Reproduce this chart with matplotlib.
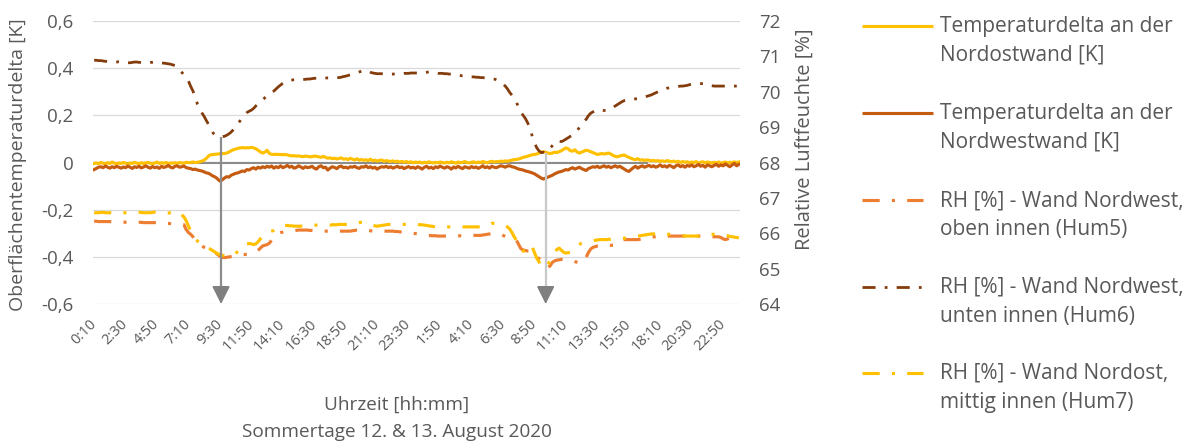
import numpy as np
import matplotlib
matplotlib.use("Agg")
import matplotlib.pyplot as plt
from matplotlib.lines import Line2D

plt.rcParams['font.family'] = ['Open Sans', 'DejaVu Sans']

TEXT = '#595959'
GRID = '#D9D9D9'

# 10-minute readings, 12. Aug 0:10 to 13. Aug 24:00 (288 values per series)
tick_labels = ["0:10", "2:30", "4:50", "7:10", "9:30", "11:50", "14:10", "16:30",
               "18:50", "21:10", "23:30", "1:50", "4:10", "6:30", "8:50", "11:10",
               "13:30", "15:50", "18:10", "20:30", "22:50"]
tick_step = 14  # one label every 140 minutes

# Surface temperature deltas in mK
delta_nordost_mK = [
    -4, -2, -5, 0, -3, -6, -1, -4, 2, -3, -5, -2,
    -4, 0, -3, -6, -2, -4, 1, -3, -5, -1, -4, -2,
    0, -3, -5, -2, 2, -4, -1, -3, 0, -5, -2, -3,
    -1, -4, 0, -2, -3, 1, -1, 0, 2, 0, 1, 3,
    6, 10, 18, 28, 33, 34, 35, 36, 37, 38, 38, 40,
    44, 50, 54, 57, 60, 62, 63, 62, 63, 62, 64, 62,
    58, 52, 45, 40, 44, 52, 38, 35, 34, 35, 34, 34,
    33, 34, 32, 30, 28, 29, 27, 28, 26, 25, 27, 26,
    24, 25, 27, 26, 24, 22, 26, 22, 18, 20, 16, 18,
    15, 17, 20, 14, 16, 12, 18, 14, 11, 16, 10, 13,
    9, 12, 8, 14, 7, 10, 6, 9, 11, 5, 8, 6,
    4, 7, 3, 6, 2, 5, 1, 4, 0, 3, -1, 2,
    0, 2, -2, 1, -1, 3, 0, -2, 1, -1, 2, 0,
    -2, 1, -1, 3, 0, -3, 2, -1, 1, 4, 0, -2,
    1, 3, -1, 2, 0, 4, 1, -1, 3, 5, 2, 4,
    3, 6, 4, 7, 5, 8, 10, 12, 13, 15, 18, 22,
    24, 27, 30, 33, 34, 36, 40, 44, 46, 43, 40, 38,
    40, 44, 42, 46, 50, 56, 62, 58, 50, 48, 54, 44,
    40, 44, 48, 52, 50, 46, 42, 38, 34, 36, 38, 36,
    38, 40, 36, 30, 26, 24, 28, 30, 32, 26, 22, 18,
    14, 12, 16, 10, 12, 8, 11, 10, 7, 9, 6, 8,
    5, 7, 4, 8, 6, 3, 6, 2, 5, 0, 4, 1,
    3, -1, 2, 0, 4, -2, 1, 3, -1, 2, 0, -2,
    1, -1, 2, -3, 0, 2, -2, 1, -1, 3, 0, 2,
]

delta_nordwest_mK = [
    -30, -25, -20, -18, -22, -15, -20, -24, -18, -22, -16, -20,
    -24, -19, -22, -15, -20, -25, -18, -21, -16, -23, -19, -14,
    -20, -24, -17, -22, -19, -25, -16, -21, -18, -12, -20, -23,
    -16, -14, -20, -18, -15, -22, -24, -26, -30, -28, -32, -34,
    -36, -40, -44, -46, -52, -58, -62, -70, -79, -74, -66, -60,
    -62, -54, -50, -46, -44, -40, -36, -38, -30, -32, -26, -22,
    -28, -20, -24, -18, -22, -16, -20, -15, -24, -18, -22, -14,
    -22, -18, -12, -20, -16, -24, -21, -14, -19, -25, -18, -22,
    -20, -16, -24, -28, -18, -14, -22, -20, -32, -24, -18, -21,
    -26, -18, -15, -22, -20, -24, -18, -20, -16, -22, -25, -18,
    -20, -14, -22, -18, -24, -20, -28, -22, -18, -20, -16, -22,
    -18, -24, -20, -16, -22, -19, -26, -21, -17, -23, -20, -25,
    -18, -22, -28, -20, -16, -24, -20, -26, -18, -22, -15, -20,
    -24, -18, -21, -28, -19, -23, -16, -22, -26, -18, -21, -24,
    -17, -22, -19, -25, -20, -14, -22, -18, -24, -16, -20, -22,
    -18, -14, -16, -20, -15, -14, -18, -20, -24, -28, -30, -32,
    -36, -38, -41, -44, -48, -54, -60, -66, -70, -66, -62, -58,
    -54, -48, -44, -40, -38, -34, -30, -32, -26, -22, -28, -24,
    -20, -26, -30, -34, -26, -22, -18, -20, -16, -22, -18, -14,
    -20, -16, -22, -18, -14, -20, -16, -22, -28, -34, -38, -30,
    -22, -16, -24, -18, -14, -20, -16, -12, -18, -14, -20, -16,
    -10, -18, -14, -20, -12, -16, -22, -14, -10, -18, -13, -20,
    -12, -16, -10, -18, -14, -8, -16, -12, -20, -10, -14, -18,
    -12, -8, -16, -10, -14, -6, -12, -18, -10, -4, -14, -8,
]

# Relative humidity in %
rh_hum5 = [
    66.34, 66.34, 66.33, 66.33, 66.33, 66.33, 66.33, 66.33, 66.32, 66.32, 66.32, 66.32,
    66.32, 66.32, 66.31, 66.31, 66.31, 66.31, 66.31, 66.31, 66.31, 66.31, 66.30, 66.30,
    66.30, 66.30, 66.30, 66.30, 66.30, 66.30, 66.29, 66.29, 66.28, 66.28, 66.27, 66.26,
    66.26, 66.25, 66.25, 66.25, 66.24, 66.10, 66.02, 65.97, 65.90, 65.82, 65.74, 65.68,
    65.64, 65.60, 65.56, 65.53, 65.50, 65.47, 65.44, 65.40, 65.35, 65.32, 65.31, 65.32,
    65.33, 65.34, 65.35, 65.36, 65.38, 65.39, 65.40, 65.40, 65.40, 65.40, 65.42, 65.44,
    65.47, 65.52, 65.58, 65.64, 65.66, 65.68, 65.72, 65.80, 65.90, 65.97, 66.00, 66.02,
    66.03, 66.04, 66.04, 66.05, 66.06, 66.07, 66.08, 66.09, 66.09, 66.09, 66.09, 66.09,
    66.08, 66.08, 66.07, 66.07, 66.07, 66.06, 66.06, 66.06, 66.06, 66.06, 66.06, 66.06,
    66.06, 66.06, 66.06, 66.06, 66.06, 66.06, 66.06, 66.07, 66.08, 66.09, 66.09, 66.09,
    66.09, 66.09, 66.08, 66.07, 66.06, 66.06, 66.06, 66.06, 66.06, 66.06, 66.06, 66.06,
    66.06, 66.06, 66.05, 66.05, 66.04, 66.04, 66.03, 66.03, 66.02, 66.01, 66.00, 65.99,
    65.98, 65.97, 65.96, 65.95, 65.94, 65.94, 65.93, 65.93, 65.93, 65.92, 65.92, 65.92,
    65.92, 65.92, 65.92, 65.92, 65.92, 65.92, 65.92, 65.93, 65.93, 65.93, 65.93, 65.94,
    65.94, 65.94, 65.94, 65.94, 65.94, 65.95, 65.96, 65.97, 65.98, 65.99, 65.99, 65.99,
    65.99, 65.97, 65.94, 65.91, 65.89, 65.87, 65.85, 65.83, 65.80, 65.68, 65.56, 65.53,
    65.51, 65.50, 65.50, 65.49, 65.45, 65.36, 65.28, 65.21, 65.12, 65.06, 65.03, 65.08,
    65.18, 65.22, 65.24, 65.25, 65.26, 65.26, 65.26, 65.26, 65.25, 65.23, 65.20, 65.18,
    65.16, 65.15, 65.20, 65.32, 65.45, 65.55, 65.60, 65.62, 65.64, 65.65, 65.66, 65.68,
    65.68, 65.67, 65.66, 65.66, 65.70, 65.76, 65.80, 65.81, 65.82, 65.82, 65.82, 65.82,
    65.82, 65.82, 65.82, 65.83, 65.84, 65.85, 65.86, 65.88, 65.89, 65.90, 65.90, 65.91,
    65.91, 65.92, 65.92, 65.92, 65.92, 65.92, 65.92, 65.92, 65.92, 65.92, 65.92, 65.92,
    65.92, 65.92, 65.92, 65.92, 65.92, 65.92, 65.92, 65.92, 65.91, 65.91, 65.91, 65.90,
    65.90, 65.90, 65.90, 65.88, 65.84, 65.82, 65.84, 65.86, 65.87, 65.88, 65.88, 65.88,
]

rh_hum6 = [
    70.89, 70.89, 70.88, 70.88, 70.87, 70.86, 70.86, 70.85, 70.85, 70.84, 70.84, 70.85,
    70.85, 70.84, 70.83, 70.82, 70.82, 70.83, 70.84, 70.84, 70.83, 70.83, 70.82, 70.82,
    70.82, 70.83, 70.83, 70.83, 70.82, 70.82, 70.81, 70.81, 70.80, 70.79, 70.78, 70.76,
    70.74, 70.70, 70.62, 70.55, 70.48, 70.42, 70.30, 70.15, 70.02, 69.85, 69.65, 69.52,
    69.40, 69.30, 69.18, 69.07, 68.95, 68.83, 68.77, 68.74, 68.73, 68.73, 68.74, 68.77,
    68.81, 68.86, 68.93, 69.02, 69.10, 69.18, 69.26, 69.34, 69.41, 69.45, 69.48, 69.53,
    69.60, 69.66, 69.71, 69.77, 69.83, 69.88, 69.93, 69.98, 70.02, 70.08, 70.14, 70.19,
    70.24, 70.28, 70.30, 70.32, 70.33, 70.34, 70.34, 70.35, 70.35, 70.35, 70.35, 70.36,
    70.36, 70.37, 70.38, 70.38, 70.38, 70.39, 70.39, 70.39, 70.39, 70.39, 70.39, 70.39,
    70.40, 70.40, 70.41, 70.43, 70.44, 70.46, 70.48, 70.50, 70.52, 70.54, 70.56, 70.58,
    70.60, 70.61, 70.58, 70.55, 70.53, 70.52, 70.51, 70.51, 70.51, 70.50, 70.50, 70.50,
    70.50, 70.50, 70.50, 70.51, 70.51, 70.51, 70.52, 70.52, 70.52, 70.53, 70.53, 70.53,
    70.53, 70.53, 70.53, 70.54, 70.55, 70.56, 70.55, 70.54, 70.53, 70.52, 70.52, 70.52,
    70.51, 70.51, 70.50, 70.50, 70.49, 70.48, 70.47, 70.46, 70.45, 70.45, 70.44, 70.43,
    70.42, 70.42, 70.41, 70.41, 70.40, 70.40, 70.39, 70.39, 70.38, 70.37, 70.36, 70.34,
    70.31, 70.27, 70.22, 70.16, 70.08, 69.98, 69.90, 69.82, 69.70, 69.55, 69.42, 69.33,
    69.24, 69.12, 68.96, 68.75, 68.56, 68.42, 68.33, 68.28, 68.29, 68.27, 68.34, 68.40,
    68.48, 68.56, 68.62, 68.60, 68.59, 68.62, 68.66, 68.70, 68.74, 68.77, 68.82, 68.90,
    68.99, 69.08, 69.15, 69.22, 69.32, 69.39, 69.43, 69.46, 69.49, 69.50, 69.49, 69.47,
    69.47, 69.49, 69.52, 69.56, 69.60, 69.64, 69.68, 69.72, 69.75, 69.76, 69.77, 69.78,
    69.79, 69.80, 69.80, 69.81, 69.83, 69.85, 69.87, 69.89, 69.91, 69.94, 69.97, 70.00,
    70.03, 70.06, 70.08, 70.10, 70.11, 70.12, 70.13, 70.14, 70.15, 70.16, 70.16, 70.17,
    70.18, 70.20, 70.21, 70.22, 70.23, 70.23, 70.23, 70.23, 70.22, 70.20, 70.18, 70.17,
    70.16, 70.16, 70.16, 70.16, 70.16, 70.16, 70.16, 70.16, 70.16, 70.16, 70.16, 70.16,
]

rh_hum7 = [
    66.58, 66.58, 66.58, 66.59, 66.59, 66.58, 66.58, 66.58, 66.57, 66.57, 66.58, 66.59,
    66.59, 66.58, 66.58, 66.58, 66.57, 66.57, 66.58, 66.59, 66.59, 66.59, 66.58, 66.58,
    66.58, 66.58, 66.59, 66.60, 66.60, 66.59, 66.58, 66.58, 66.57, 66.57, 66.58, 66.58,
    66.60, 66.62, 66.58, 66.52, 66.46, 66.35, 66.20, 66.06, 65.95, 65.85, 65.78, 65.73,
    65.70, 65.67, 65.62, 65.58, 65.54, 65.50, 65.46, 65.42, 65.40, 65.38, 65.37, 65.37,
    65.37, 65.36, 65.37, 65.42, 65.50, 65.58, 65.65, 65.68, 65.70, 65.71, 65.70, 65.68,
    65.70, 65.76, 65.84, 65.92, 65.96, 66.00, 66.04, 66.06, 66.08, 66.12, 66.16, 66.20,
    66.21, 66.22, 66.22, 66.21, 66.21, 66.20, 66.20, 66.20, 66.20, 66.21, 66.21, 66.22,
    66.22, 66.23, 66.23, 66.23, 66.23, 66.23, 66.23, 66.23, 66.23, 66.23, 66.24, 66.24,
    66.24, 66.25, 66.25, 66.25, 66.25, 66.25, 66.25, 66.26, 66.27, 66.28, 66.30, 66.31,
    66.31, 66.30, 66.27, 66.24, 66.22, 66.21, 66.20, 66.21, 66.22, 66.23, 66.24, 66.25,
    66.25, 66.25, 66.25, 66.25, 66.25, 66.25, 66.25, 66.25, 66.25, 66.25, 66.25, 66.25,
    66.25, 66.24, 66.24, 66.23, 66.22, 66.21, 66.20, 66.19, 66.18, 66.18, 66.18, 66.18,
    66.18, 66.18, 66.18, 66.18, 66.18, 66.18, 66.18, 66.18, 66.18, 66.18, 66.18, 66.18,
    66.18, 66.18, 66.18, 66.18, 66.18, 66.19, 66.20, 66.22, 66.25, 66.28, 66.28, 66.27,
    66.25, 66.22, 66.21, 66.20, 66.18, 66.12, 66.02, 65.90, 65.80, 65.68, 65.58, 65.49,
    65.52, 65.60, 65.68, 65.62, 65.45, 65.30, 65.20, 65.05, 65.02, 65.05, 65.12, 65.22,
    65.34, 65.46, 65.54, 65.58, 65.52, 65.46, 65.44, 65.45, 65.46, 65.50, 65.56, 65.62,
    65.68, 65.72, 65.74, 65.75, 65.77, 65.78, 65.79, 65.80, 65.81, 65.82, 65.82, 65.82,
    65.82, 65.83, 65.83, 65.84, 65.84, 65.84, 65.85, 65.85, 65.86, 65.86, 65.87, 65.88,
    65.89, 65.90, 65.92, 65.93, 65.94, 65.95, 65.96, 65.97, 65.98, 65.98, 65.99, 65.99,
    65.99, 65.99, 65.98, 65.97, 65.97, 65.97, 65.96, 65.95, 65.94, 65.93, 65.93, 65.92,
    65.92, 65.92, 65.92, 65.92, 65.92, 65.92, 65.93, 65.94, 65.95, 65.96, 65.97, 65.97,
    65.97, 65.97, 65.97, 65.97, 65.96, 65.95, 65.93, 65.91, 65.90, 65.89, 65.88, 65.87,
]

labels = ["Temperaturdelta an der\nNordostwand [K]",
          "Temperaturdelta an der\nNordwestwand [K]",
          "RH [%] - Wand Nordwest,\noben innen (Hum5)",
          "RH [%] - Wand Nordwest,\nunten innen (Hum6)",
          "RH [%] - Wand Nordost,\nmittig innen (Hum7)"]

# ---- line styles ----
styles = [
    dict(color='#FFC000', lw=2.25, ls='-'),
    dict(color='#C55A11', lw=2.25, ls='-'),
    dict(color='#ED7D31', lw=2.25, ls=(0, (5.5, 3.9, 1.0, 3.9))),
    dict(color='#843C0C', lw=2.0, ls=(0, (4.7, 3.3, 1.0, 3.3))),
    dict(color='#FFC000', lw=2.25, ls=(0, (5.5, 3.9, 1.0, 3.9))),
]

W, H = 1195, 443
fig = plt.figure(figsize=(W / 100, H / 100), dpi=100)
ax = fig.add_axes([93 / W, (H - 304) / H, (740 - 93) / W, (304 - 21) / H])
ax2 = ax.twinx()

n = len(rh_hum6)
x = np.arange(n)

# horizontal grid
for v in np.arange(-0.6, 0.61, 0.2):
    ax.axhline(v, color=GRID, lw=0.9, zorder=0)

# zero reference line
zero_line_end = 246
ax.plot([x[0], x[zero_line_end]], [0, 0], color='#8C8C8C', lw=1.5, zorder=1)

ax.plot(x, np.array(delta_nordost_mK) / 1000, solid_joinstyle='round', zorder=3, **styles[0])
ax.plot(x, np.array(delta_nordwest_mK) / 1000, solid_joinstyle='round', zorder=3, **styles[1])

ax2.plot(x, rh_hum5, dash_capstyle='butt', **styles[2])
ax2.plot(x, rh_hum6, dash_capstyle='butt', **styles[3])
ax2.plot(x, rh_hum7, dash_capstyle='butt', **styles[4])

ax.set_xlim(-0.5, n - 0.5)
ax.set_ylim(-0.6, 0.6)
ax2.set_ylim(64, 72)

# arrows from the daily humidity minimum of Hum6 down to the axis
hum6 = np.array(rh_hum6)
half = n // 2
arrow_colors = ['#8C8C8C', '#C8C8C8']
for day, line_color in enumerate(arrow_colors):
    seg = hum6[day * half:(day + 1) * half]
    i_min = day * half + int(np.argmin(seg)) + 0.5 * (day == 0)
    ax2.plot([i_min, i_min], [seg.min(), 64.4], color=line_color, lw=1.6, zorder=4,
             solid_capstyle='butt')
    ax2.annotate('', xy=(i_min, 64.0), xytext=(i_min, 64.45),
                 arrowprops=dict(arrowstyle='-|>,head_length=1.1,head_width=0.55',
                                 color='#7F7F7F', lw=1.2, shrinkA=0, shrinkB=0),
                 zorder=5)

# ticks
yt = np.round(np.arange(-0.6, 0.61, 0.2), 1)
ax.set_yticks(yt)
ax.set_yticklabels(['0' if v == 0 else f"{v:.1f}".replace('.', ',') for v in yt])
ax2.set_yticks(np.arange(64, 73, 1))
ax.set_xticks(x[::tick_step])
ax.set_xticklabels(tick_labels, rotation=45, ha='right', va='center',
                   rotation_mode='anchor', fontsize=10.5, color=TEXT)
ax.tick_params(axis='y', length=0, pad=14, labelsize=13.5, labelcolor=TEXT)
ax2.tick_params(axis='y', length=0, pad=14, labelsize=13.5, labelcolor=TEXT)
ax.tick_params(axis='x', length=0, pad=13)
for a in (ax, ax2):
    for s in a.spines.values():
        s.set_visible(False)

# axis titles
fig.text(18 / W, 1 - 165 / H, "Oberflächentemperaturdelta [K]", rotation=90,
         ha='center', va='center', fontsize=14, color=TEXT)
fig.text(805 / W, 1 - 139 / H, "Relative Luftfeuchte [%]", rotation=90,
         ha='center', va='center', fontsize=14.5, color=TEXT)
fig.text(397 / W, 1 - 405 / H, "Uhrzeit [hh:mm]", ha='center', va='center',
         fontsize=13.7, color=TEXT)
fig.text(397 / W, 1 - 432 / H, "Sommertage 12. & 13. August 2020", ha='center',
         va='center', fontsize=13.7, color=TEXT)

# legend
entry_y = [26, 113, 200, 287, 373]
handle_end = [933, 933, 923, 923, 923]
for lab, st, yy, xe in zip(labels, styles, entry_y, handle_end):
    fig.add_artist(Line2D([862 / W, xe / W], [1 - yy / H, 1 - yy / H],
                          transform=fig.transFigure, color=st['color'], lw=st['lw'],
                          ls=st['ls'], dash_capstyle='butt', solid_capstyle='butt'))
    fig.text(940 / W, 1 - (yy + 15) / H, lab, ha='left', va='center', fontsize=15,
             color=TEXT, linespacing=1.5, multialignment='left')

fig.savefig('out.png', dpi=100)
